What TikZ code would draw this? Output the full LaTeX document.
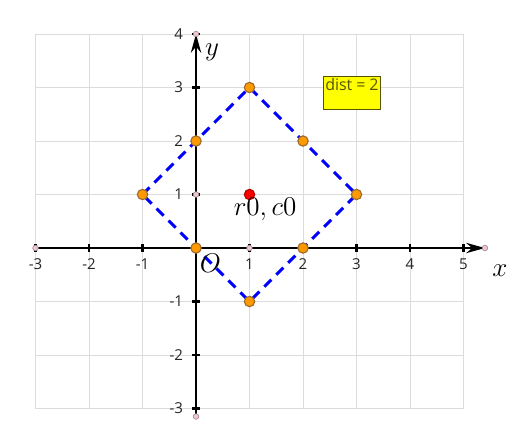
\documentclass[tikz,border=0pt]{standalone}
\usepackage{fontspec}
\usetikzlibrary{arrows.meta,positioning,backgrounds}
\newfontfamily\uisans{Open Sans}
\definecolor{gridline}{HTML}{DCDCDC}
\definecolor{cell}{HTML}{FF9900}
\definecolor{cellrim}{HTML}{9A6B2E}
\definecolor{centre}{HTML}{FF0000}
\definecolor{centrerim}{HTML}{B00000}
\definecolor{hop}{HTML}{0000FF}
\definecolor{marker}{HTML}{EAC9CE}
\definecolor{markerrim}{HTML}{A08088}
\definecolor{tag}{HTML}{FFFF00}
\definecolor{tagrim}{HTML}{555500}
\tikzset{
  >={Stealth[length=10pt,width=5.5pt]},
  gridlines/.style={draw=gridline,line width=0.5pt},
  axisline/.style={draw=black,line width=1.1pt},
  tickmark/.style={draw=black,line width=1.1pt},
  ticklabel/.style={font=\uisans\fontsize{8}{9.5}\selectfont,text=black!85,inner sep=1pt},
  cellpt/.style={circle,draw=cellrim,fill=cell,line width=0.6pt,minimum size=5.5pt,inner sep=0pt},
  centrept/.style={cellpt,draw=centrerim,fill=centre},
  endpt/.style={circle,draw=markerrim,fill=marker,line width=0.3pt,minimum size=3pt,inner sep=0pt},
  hopline/.style={draw=hop,line width=1.6pt,dash pattern=on 5.3pt off 3.7pt},
  mathlabel/.style={font=\fontsize{15}{17}\selectfont,inner sep=0pt},
  distbox/.style={draw=tagrim,fill=tag,line width=0.6pt,inner sep=1pt,font=\uisans\fontsize{8.5}{10}\selectfont,text=tagrim,anchor=north west},
}

\begin{document}
\begin{tikzpicture}[x=1cm,y=1cm]
  \useasboundingbox (-3.664,-3.701) rectangle (5.925,4.636);
  % axis ends
  \coordinate (xmin) at (-3,0);
  \coordinate (xmax) at (5.4,0);
  \coordinate (ymin) at (0,-3.15);
  \coordinate (ymax) at (0,4);
  % cells around the centre
  \node[cellpt] (left) at (-1,1) {};
  \node[cellpt] (top) at (1,3) {};
  \node[cellpt] (right) at (3,1) {};
  \node[cellpt] (bottom) at (1,-1) {};
  \node[cellpt] (upleft) at (0,2) {};
  \node[cellpt] (upright) at (2,2) {};
  \node[cellpt] (downright) at (2,0) {};
  \node[cellpt] (origin) at (0,0) {};
  \node[centrept] (centre) at (1,1) {};
  \node[endpt] (xminpt) at (xmin) {};
  \node[endpt] (xmaxpt) at (xmax) {};
  \node[endpt] (yminpt) at (ymin) {};
  \node[endpt] (ymaxpt) at (ymax) {};
  \node[endpt] (xone) at (1,0) {};
  \node[endpt] (yone) at (0,1) {};
  \begin{scope}[on background layer]
    \draw[gridlines] (-3,-3) grid (5,4);
    \draw[axisline,->] (xmin) -- (xmax);
    \draw[axisline,->] (ymin) -- (ymax);
    \foreach \t in {-3,-2,-1,1,2,3,4,5}
      \draw[tickmark] (\t,-0.075) -- (\t,0.075);
    \foreach \t in {-3,-2,-1,1,2,3,4}
      \draw[tickmark] (-0.075,\t) -- (0.075,\t);
    \draw[hopline] (left.center) -- (top.center) -- (right.center) -- (bottom.center) -- cycle;
  \end{scope}
  % tick labels
  \foreach \t in {-3,-2,-1,1,2,3,4,5}
    \node[ticklabel] (xl\t) at (\t,-0.3) {\t};
  \foreach \t in {-3,-2,-1,1,2,3,4}
    \node[ticklabel,anchor=east] (yl\t) at (-0.2,\t) {\t};
  \node[mathlabel] (xname) at (5.68,-0.43) {$x$};
  \node[mathlabel] (yname) at (0.30,3.66) {$y$};
  \node[mathlabel] (oname) at (0.27,-0.29) {$O$};
  \node[mathlabel,anchor=base] (cname) at (1.29,0.60) {$r0,c0$};
  \node[distbox] (dist) at (2.37,3.21) {\parbox[t][15.5pt][t]{28.3pt}{dist = 2}};
\end{tikzpicture}
\end{document}
